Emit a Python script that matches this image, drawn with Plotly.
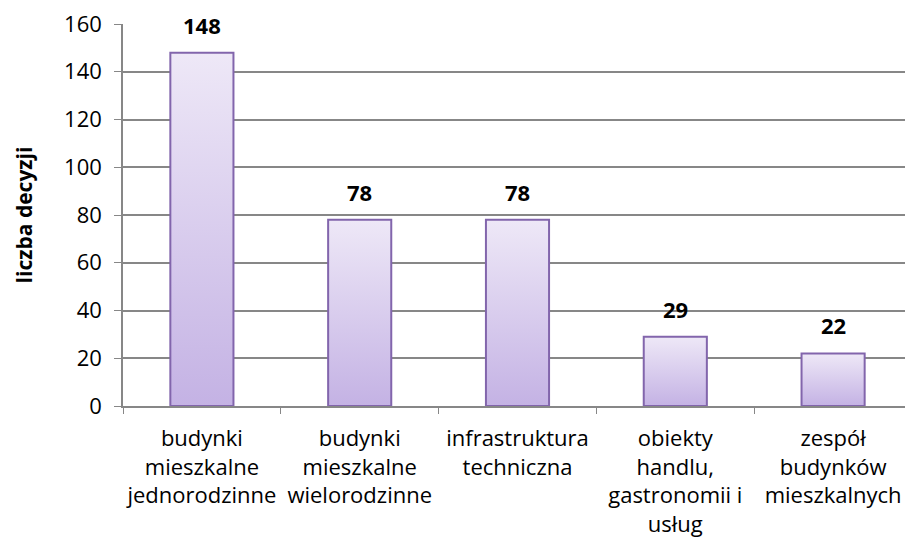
import plotly.graph_objects as go

# Data
categories = [
    "budynki<br>mieszkalne<br>jednorodzinne",
    "budynki<br>mieszkalne<br>wielorodzinne",
    "infrastruktura<br>techniczna",
    "obiekty<br>handlu,<br>gastronomii i<br>usług",
    "zespół<br>budynków<br>mieszkalnych",
]
values = [148, 78, 78, 29, 22]
y_ticks = [0, 20, 40, 60, 80, 100, 120, 140, 160]

FONT = "Open Sans"
BORDER = "#8265AC"
GRID = "#878787"
HALF = 0.2  # half bar width in category units

fig = go.Figure()

# Bars drawn as filled outlines so they can carry a vertical gradient
for i, v in enumerate(values):
    fig.add_trace(go.Scatter(
        x=[i - HALF, i + HALF, i + HALF, i - HALF, i - HALF],
        y=[0, 0, v, v, 0],
        mode="lines",
        fill="toself",
        fillgradient=dict(
            type="vertical",
            colorscale=[[0, "#C4B2E4"], [1, "#EEE8F7"]],
        ),
        line=dict(color=BORDER, width=2),
        hoverinfo="skip",
        showlegend=False,
    ))

# Value labels above the bars
for i, v in enumerate(values):
    fig.add_annotation(
        x=i, y=v, text=str(v),
        showarrow=False, yanchor="bottom", yshift=11,
        font=dict(family=FONT, size=22, color="#000000", weight="bold"),
    )

# page body adds an 8px offset, so the figure is sized to fit the window
fig.update_layout(
    width=905,
    height=540,
    margin=dict(l=115, r=1, t=16, b=142),
    paper_bgcolor="white",
    plot_bgcolor="white",
    font=dict(family=FONT, size=22, color="#000000"),
    xaxis=dict(
        range=[-0.5, len(values) - 0.5],
        tickvals=list(range(len(values))),
        ticktext=categories,
        ticks="outside",
        ticklen=0,
        tickcolor=GRID,
        ticklabelstandoff=12,
        ticklabeloverflow="allow",
        minor=dict(tick0=-0.5, dtick=1, ticks="outside", ticklen=6, tickcolor=GRID, showgrid=False),
        showgrid=False,
        showline=True,
        linecolor=GRID,
        linewidth=1.5,
        zeroline=False,
        automargin=False,
    ),
    yaxis=dict(
        range=[0, 160],
        tickvals=y_ticks,
        ticks="outside",
        ticklen=7,
        tickcolor=GRID,
        ticklabelstandoff=8,
        ticklabeloverflow="allow",
        showgrid=True,
        gridcolor=GRID,
        gridwidth=1.5,
        showline=True,
        linecolor=GRID,
        linewidth=1.5,
        zeroline=False,
        automargin=False,
        title=dict(
            text="liczba decyzji",
            font=dict(family=FONT, size=21, weight="bold"),
            standoff=26,
        ),
    ),
)

fig.write_html("out.html")
